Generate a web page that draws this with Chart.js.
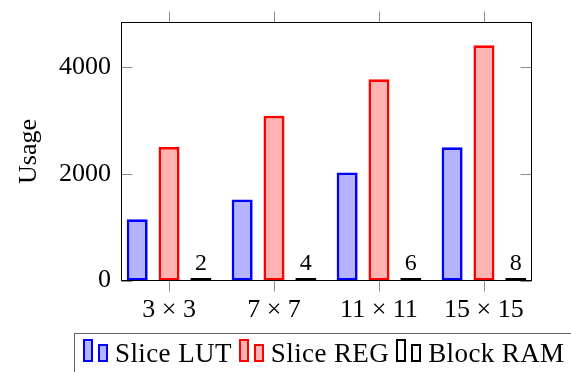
<!DOCTYPE html>
<html>
<head>
<meta charset="utf-8">
<script src="https://cdn.jsdelivr.net/npm/chart.js@4.4.1/dist/chart.umd.min.js"></script>
<style>
  html, body { margin: 0; padding: 0; background: #fff; overflow: hidden; }
  #wrap { position: relative; width: 571px; height: 372px; }
  #legend {
    position: absolute; left: 74px; top: 333px; width: 560px; height: 60px;
    border: 1px solid #666; box-sizing: border-box;
    padding: 5px 0 0 8px; white-space: nowrap; letter-spacing: 0.4px;
    font-family: 'Liberation Serif', serif; font-size: 27px; line-height: 27px; color: #000;
  }
  #legend .bar { display: inline-block; vertical-align: baseline; box-sizing: border-box; border: 2.6px solid; width: 10px; }
  #legend .b1 { height: 23px; margin-right: 5px; }
  #legend .b2 { height: 18px; margin-right: 7px; }
  #legend .txt { margin-right: 7px; }
</style>
</head>
<body>
<div id="wrap">
  <canvas id="usageChart" width="571" height="372"></canvas>
  <div id="legend"></div>
</div>
<script>
// Datos
const categories = ['3 × 3', '7 × 7', '11 × 11', '15 × 15'];
const sliceLUT = [1150, 1520, 2030, 2500];
const sliceREG = [2510, 3095, 3780, 4420];
const blockRAM = [2, 4, 6, 8];
const yTicks = [0, 2000, 4000];

const colors = {
  blue: '#0000ff', blueFill: '#b3b3ff',
  red: '#ff0000', redFill: '#ffb3b3',
  black: '#000000', blackFill: '#ffffff',
  tick: '#8c8c8c',
};

const series = [
  { label: 'Slice LUT', data: sliceLUT, border: colors.blue, fill: colors.blueFill },
  { label: 'Slice REG', data: sliceREG, border: colors.red, fill: colors.redFill },
  { label: 'Block RAM', data: blockRAM, border: colors.black, fill: colors.blackFill },
];

Chart.defaults.font.family = "'Liberation Serif', serif";
Chart.defaults.color = '#000';

// Marco del eje y marcas estilo pgfplots
const framePlugin = {
  id: 'frame',
  afterDatasetsDraw(chart) {
    const { ctx, chartArea: a, scales: { x, y } } = chart;
    ctx.save();
    ctx.lineWidth = 1;
    ctx.strokeStyle = colors.tick;
    ctx.beginPath();
    x.ticks.forEach(t => {
      const px = Math.round(x.getPixelForValue(t.value)) + 0.5;
      ctx.moveTo(px, a.top - 11); ctx.lineTo(px, a.top);
      ctx.moveTo(px, a.bottom); ctx.lineTo(px, a.bottom + 11);
    });
    y.ticks.forEach(t => {
      const py = Math.round(y.getPixelForValue(t.value)) + 0.5;
      ctx.moveTo(a.left, py); ctx.lineTo(a.left + 11, py);
      ctx.moveTo(a.right - 11, py); ctx.lineTo(a.right, py);
    });
    ctx.stroke();
    ctx.strokeStyle = '#000';
    ctx.strokeRect(a.left, a.top, a.right - a.left, a.bottom - a.top);

    // Etiquetas sobre las barras de Block RAM
    const meta = chart.getDatasetMeta(2);
    ctx.fillStyle = '#000';
    ctx.font = "24px 'Liberation Serif', serif";
    ctx.textAlign = 'center';
    ctx.textBaseline = 'alphabetic';
    meta.data.forEach((bar, i) => {
      ctx.fillText(String(blockRAM[i]), bar.x, bar.y - 8);
    });
    ctx.restore();
  }
};

new Chart(document.getElementById('usageChart'), {
  type: 'bar',
  data: {
    labels: categories.map((_, i) => i),
    datasets: series.map((s, i) => ({
      label: s.label,
      data: s.data,
      borderColor: s.border,
      backgroundColor: s.fill,
      borderWidth: 2.8,
      borderSkipped: false,
      minBarLength: i === 2 ? 2.5 : 0,
      categoryPercentage: 0.91,
      barPercentage: 0.66,
    }))
  },
  options: {
    responsive: false,
    animation: false,
    devicePixelRatio: 1,
    layout: { padding: { top: 22.5, right: 39.5, left: 0, bottom: 0 } },
    plugins: {
      legend: { display: false },
      tooltip: { enabled: false }
    },
    scales: {
      x: {
        type: 'linear',
        offset: false,
        min: -0.453,
        max: 3.453,
        grid: { display: false, drawTicks: false, offset: false },
        border: { display: false },
        afterBuildTicks: (scale) => { scale.ticks = categories.map((_, i) => ({ value: i })); },
        afterFit: (scale) => {
          scale.height = 91.5;
          scale.paddingLeft = 0;
          scale.paddingRight = 0;
        },
        ticks: {
          autoSkip: false,
          maxRotation: 0,
          padding: 14,
          font: { size: 26 },
          callback: (v) => categories[v]
        }
      },
      y: {
        min: 0,
        max: 4845,
        grid: { display: false, drawTicks: false },
        border: { display: false },
        afterBuildTicks: (scale) => { scale.ticks = yTicks.map(v => ({ value: v })); },
        afterFit: (scale) => {
          scale.width = 121.5;
          scale.paddingTop = 0;
          scale.paddingBottom = 0;
        },
        ticks: { padding: 10.5, font: { size: 26 }, callback: (v) => String(v) },
        title: {
          display: true,
          text: 'Usage',
          font: { size: 26 },
          padding: { top: 14, bottom: 0 }
        }
      }
    }
  },
  plugins: [framePlugin]
});

// Leyenda HTML con iconos de dos barras
const legend = document.getElementById('legend');
series.forEach(s => {
  ['b1', 'b2'].forEach(cls => {
    const b = document.createElement('span');
    b.className = 'bar ' + cls;
    b.style.borderColor = s.border;
    b.style.background = s.fill;
    legend.appendChild(b);
  });
  const t = document.createElement('span');
  t.className = 'txt';
  t.textContent = s.label;
  legend.appendChild(t);
});
</script>
</body>
</html>
